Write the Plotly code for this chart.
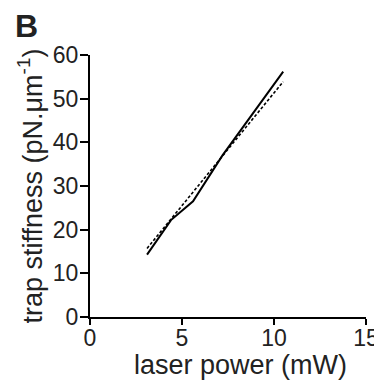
import plotly.graph_objects as go

power_data = [3.1, 4.4, 5.6, 7.2, 10.5]
stiffness_data = [14.3, 22.2, 26.5, 37.0, 56.2]
power_fit = [3.1, 10.5]
stiffness_fit = [15.7, 53.9]
x_ticks = [0, 5, 10, 15]
y_ticks = [0, 10, 20, 30, 40, 50, 60]

FONT = "Liberation Sans, Arial, sans-serif"
TXT = "#222222"

fig = go.Figure()
fig.add_trace(go.Scatter(x=power_fit, y=stiffness_fit, mode="lines",
                         line=dict(color="black", width=1.6, dash="3px,2px"),
                         showlegend=False))
fig.add_trace(go.Scatter(x=power_data, y=stiffness_data, mode="lines",
                         line=dict(color="black", width=2),
                         showlegend=False))

# page body has an 8px margin; figure is sized so the plot area lands at x 90-366, y 55-317
fig.update_layout(
    width=374, height=379,
    margin=dict(l=82, r=16, t=47, b=70, autoexpand=False),
    paper_bgcolor="white", plot_bgcolor="white",
    font=dict(family=FONT, color=TXT),
    xaxis=dict(range=[0, 15], tickvals=x_ticks, showgrid=False, zeroline=False,
               showline=True, linecolor="black", linewidth=2, automargin=False,
               ticks="outside", ticklen=6, tickwidth=2, tickcolor="black",
               ticklabelstandoff=-7, ticklabeloverflow="allow",
               tickfont=dict(size=23, family=FONT, color=TXT)),
    yaxis=dict(range=[0, 60], tickvals=y_ticks, showgrid=False, zeroline=False,
               showline=True, linecolor="black", linewidth=2, automargin=False,
               ticks="outside", ticklen=8, tickwidth=2, tickcolor="black",
               ticklabelstandoff=-3, ticklabeloverflow="allow",
               tickfont=dict(size=23, family=FONT, color=TXT)),
    annotations=[
        dict(text="<b>B</b>", xref="paper", yref="paper", x=0, y=1,
             xshift=-77, yshift=29, xanchor="left", yanchor="middle",
             showarrow=False, font=dict(size=32, family=FONT, color=TXT)),
        dict(text="laser power (mW)", xref="paper", yref="paper", x=0.547, y=0,
             yshift=-48, xanchor="center", yanchor="middle",
             showarrow=False, font=dict(size=27, family=FONT, color=TXT)),
        dict(text="trap stiffness (pN.μm<sup>-1</sup>)", xref="paper", yref="paper",
             x=0, y=0.498, xshift=-60, xanchor="center", yanchor="middle",
             textangle=-90, showarrow=False, font=dict(size=27, family=FONT, color=TXT)),
    ],
)

fig.write_html("out.html")
